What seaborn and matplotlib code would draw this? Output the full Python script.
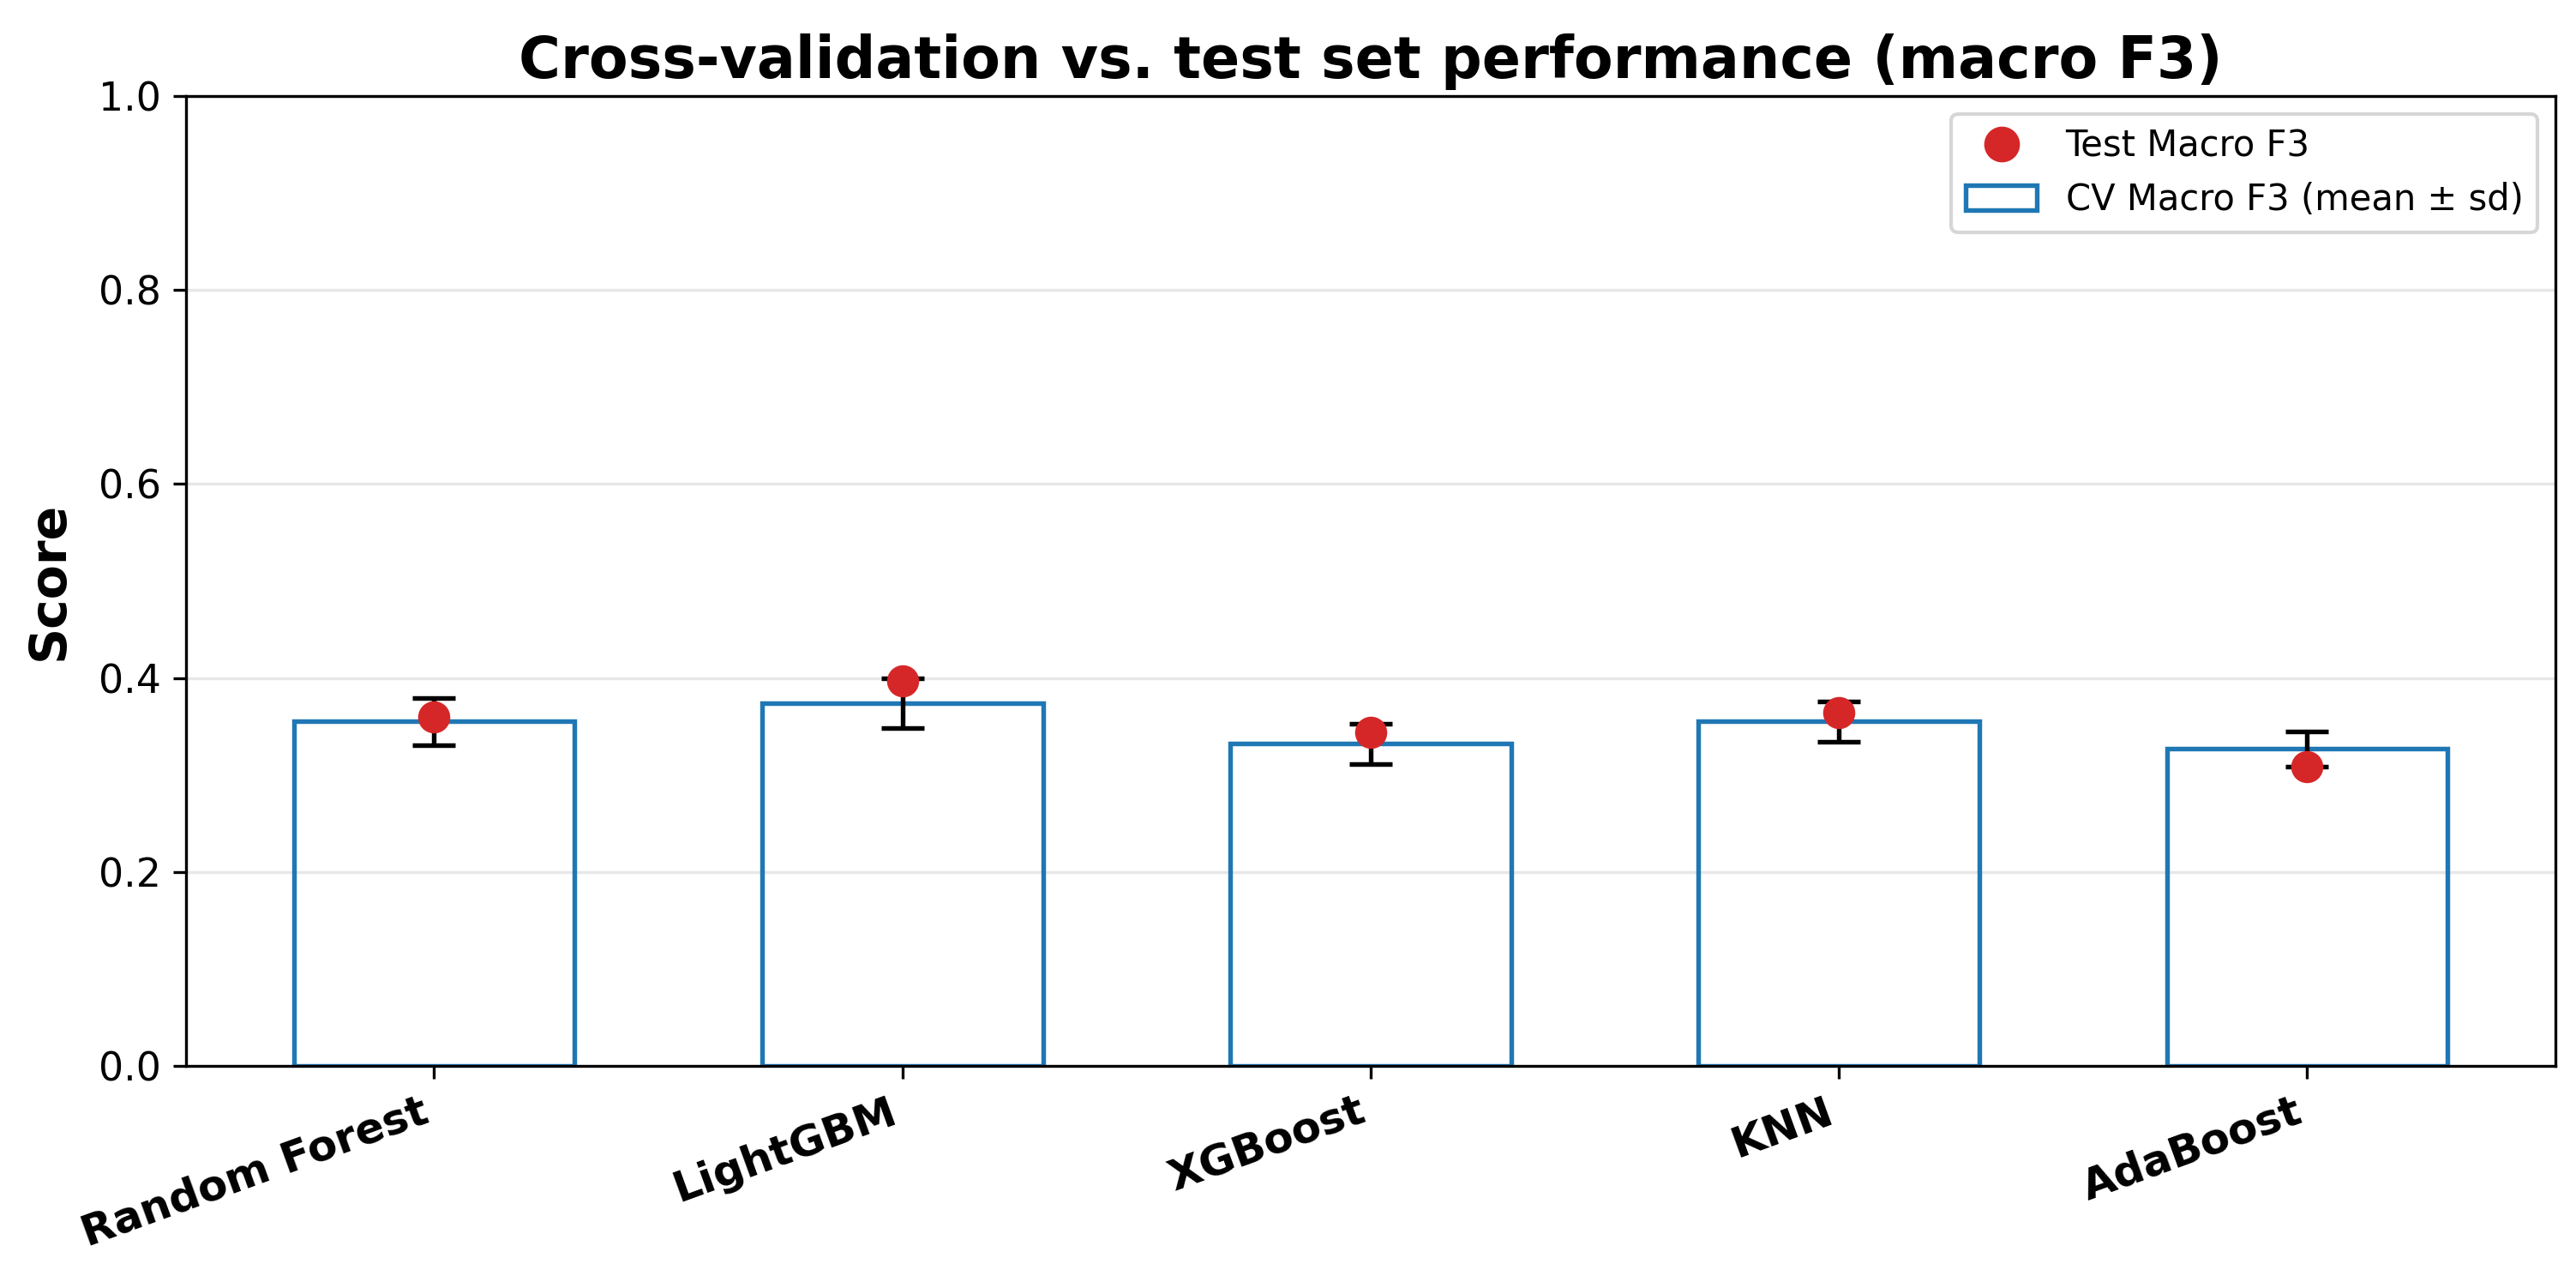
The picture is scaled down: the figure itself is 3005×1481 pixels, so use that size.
import numpy as np
import pandas as pd
import matplotlib
matplotlib.use("Agg")
import matplotlib.pyplot as plt
import seaborn as sns
from matplotlib.patches import Patch
from matplotlib.lines import Line2D

# ---- data ----
models = ["Random Forest", "LightGBM", "XGBoost", "KNN", "AdaBoost"]
cv_mean = [0.355, 0.374, 0.332, 0.355, 0.327]
cv_sd = [0.024, 0.026, 0.021, 0.021, 0.018]
test_f3 = [0.360, 0.397, 0.344, 0.364, 0.309]
yticks = [0.0, 0.2, 0.4, 0.6, 0.8, 1.0]

BLUE = "#1f77b4"
RED = "#d62728"

plt.rcParams["font.family"] = ["DejaVu Sans"]

df = pd.DataFrame({"Model": models, "CV": cv_mean, "SD": cv_sd, "Test": test_f3})

fig = plt.figure(figsize=(3005 / 300, 1481 / 300), dpi=300)
ax = fig.add_axes([0.0722, 0.1607, 0.9198, 0.7637])

sns.barplot(data=df, x="Model", y="CV", ax=ax, fill=False, color=BLUE,
            width=0.6, errorbar=None, linewidth=1.3, zorder=2)

pos = np.arange(len(models))
ax.errorbar(pos, df["CV"], yerr=df["SD"], fmt="none", ecolor="black",
            capsize=6, elinewidth=1.3, capthick=1.3, zorder=3)

sns.stripplot(data=df, x="Model", y="Test", ax=ax, jitter=False, color=RED,
              size=9, linewidth=0, zorder=4)

ax.set_xlim(-0.53, len(models) - 0.47)
ax.set_ylim(0, 1.0)
ax.set_yticks(yticks)
ax.set_yticklabels([f"{t:.1f}" for t in yticks], fontsize=11)
ax.grid(axis="y", alpha=0.3)
ax.set_axisbelow(True)

for sp in ax.spines.values():
    sp.set_visible(True)
    sp.set_color("black")
    sp.set_linewidth(0.8)

ax.set_xlabel("")
ax.set_ylabel("Score", fontsize=14, fontweight="bold", labelpad=7)
ax.set_xticks(pos)
ax.set_xticklabels(models, rotation=20, ha="right", fontsize=12, fontweight="bold")
ax.tick_params(axis="both", direction="out", length=3.5, width=0.8)

ax.set_title("Cross-validation vs. test set performance (macro F3)",
             fontsize=16, fontweight="bold", pad=5)

handles = [
    Line2D([0], [0], marker="o", linestyle="none", markerfacecolor=RED,
           markeredgecolor=RED, markersize=9, label="Test Macro F3"),
    Patch(facecolor="white", edgecolor=BLUE, linewidth=1.3,
          label="CV Macro F3 (mean \u00b1 sd)"),
]
ax.legend(handles=handles, loc="upper right", fontsize=10, frameon=True)

fig.savefig("out.png", dpi=300)
